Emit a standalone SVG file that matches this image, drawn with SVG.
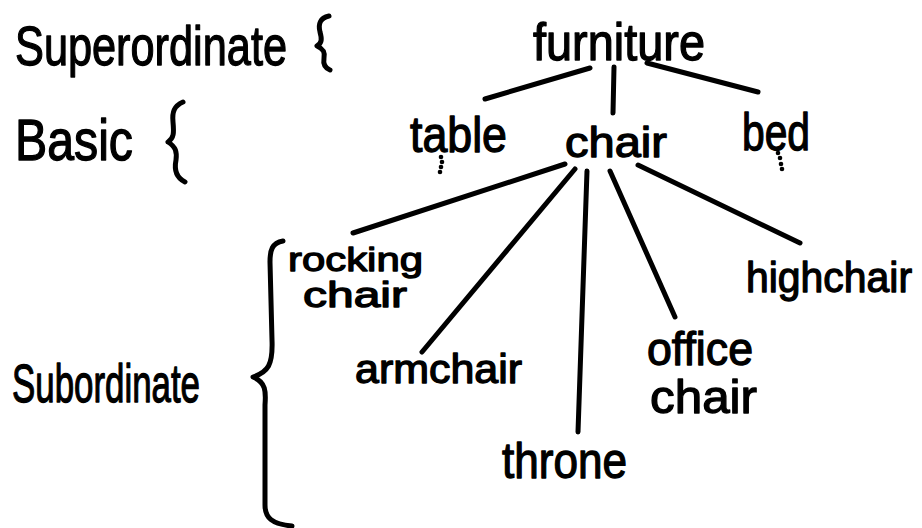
<svg xmlns="http://www.w3.org/2000/svg" width="922" height="528" viewBox="0 0 922 528">
<style>
text{font-family:"Liberation Sans","DejaVu Sans",sans-serif;fill:#000;stroke:#000;stroke-width:1.3;stroke-linejoin:round}
.ln{stroke:#000;stroke-width:5;stroke-linecap:round;fill:none}
.br{stroke:#000;stroke-width:5;stroke-linecap:round;stroke-linejoin:round;fill:none}
.dot{fill:#000}
</style>
<rect width="922" height="528" fill="#fff"/>
<g id="levels">
<text x="15" y="65" font-size="56" textLength="272" lengthAdjust="spacingAndGlyphs">Superordinate</text>
<path class="br" d="M329,16 C320,18 318,24 320,32 C322,39 322,43 317,46 C324,49 325,53 324,58 C323,64 325,68 330,70"/>
<text x="15" y="160" font-size="58" textLength="118" lengthAdjust="spacingAndGlyphs">Basic</text>
<path class="br" d="M183,102 C174,106 172,112 173,122 C174,133 174,138 168,142 C176,147 177,152 176,160 C174,170 177,178 185,182"/>
<text x="12" y="402" font-size="54" textLength="188" lengthAdjust="spacingAndGlyphs">Subordinate</text>
<path class="br" d="M283,241 C272,243 270,250 270,262 L272,340 C273,365 268,372 253,377 C266,382 266,392 265,405 L265,505 C265,518 272,524 292,526"/>
</g>
<g id="connectors">
<line class="ln" x1="590" y1="68" x2="485" y2="99"/>
<line class="ln" x1="614" y1="67" x2="613" y2="113"/>
<line class="ln" x1="647" y1="63" x2="758" y2="92"/>
<line class="ln" x1="565" y1="164" x2="353" y2="233"/>
<line class="ln" x1="575" y1="169" x2="422" y2="352"/>
<line class="ln" x1="587" y1="171" x2="578" y2="432"/>
<line class="ln" x1="610" y1="171" x2="675" y2="317"/>
<line class="ln" x1="638" y1="165" x2="800" y2="243"/>
</g>
<g id="furniture"><text x="533" y="60" font-size="52" textLength="172" lengthAdjust="spacingAndGlyphs">furniture</text></g>
<g id="table"><text x="410" y="152" font-size="50" textLength="97" lengthAdjust="spacingAndGlyphs">table</text>
<circle class="dot" cx="441" cy="157" r="2.3"/><circle class="dot" cx="442" cy="162" r="2.3"/><circle class="dot" cx="441" cy="167" r="2.3"/><circle class="dot" cx="440" cy="172" r="2.3"/></g>
<g id="chair"><text x="565" y="157" font-size="42" textLength="102" lengthAdjust="spacingAndGlyphs">chair</text></g>
<g id="bed"><text x="742" y="150" font-size="52" textLength="68" lengthAdjust="spacingAndGlyphs">bed</text>
<circle class="dot" cx="778" cy="153" r="2.3"/><circle class="dot" cx="780" cy="158" r="2.3"/><circle class="dot" cx="781" cy="164" r="2.3"/><circle class="dot" cx="782" cy="169" r="2.3"/></g>
<g id="rocking-chair"><text x="288" y="271" font-size="34" textLength="135" lengthAdjust="spacingAndGlyphs">rocking</text>
<text x="303" y="307" font-size="35" textLength="104" lengthAdjust="spacingAndGlyphs">chair</text></g>
<g id="armchair"><text x="355" y="383" font-size="40" textLength="167" lengthAdjust="spacingAndGlyphs">armchair</text></g>
<g id="throne"><text x="502" y="478" font-size="50" textLength="125" lengthAdjust="spacingAndGlyphs">throne</text></g>
<g id="office-chair"><text x="647" y="365" font-size="46" textLength="106" lengthAdjust="spacingAndGlyphs">office</text>
<text x="650" y="413" font-size="47" textLength="107" lengthAdjust="spacingAndGlyphs">chair</text></g>
<g id="highchair"><text x="746" y="292" font-size="43" textLength="166" lengthAdjust="spacingAndGlyphs">highchair</text></g>
</svg>
